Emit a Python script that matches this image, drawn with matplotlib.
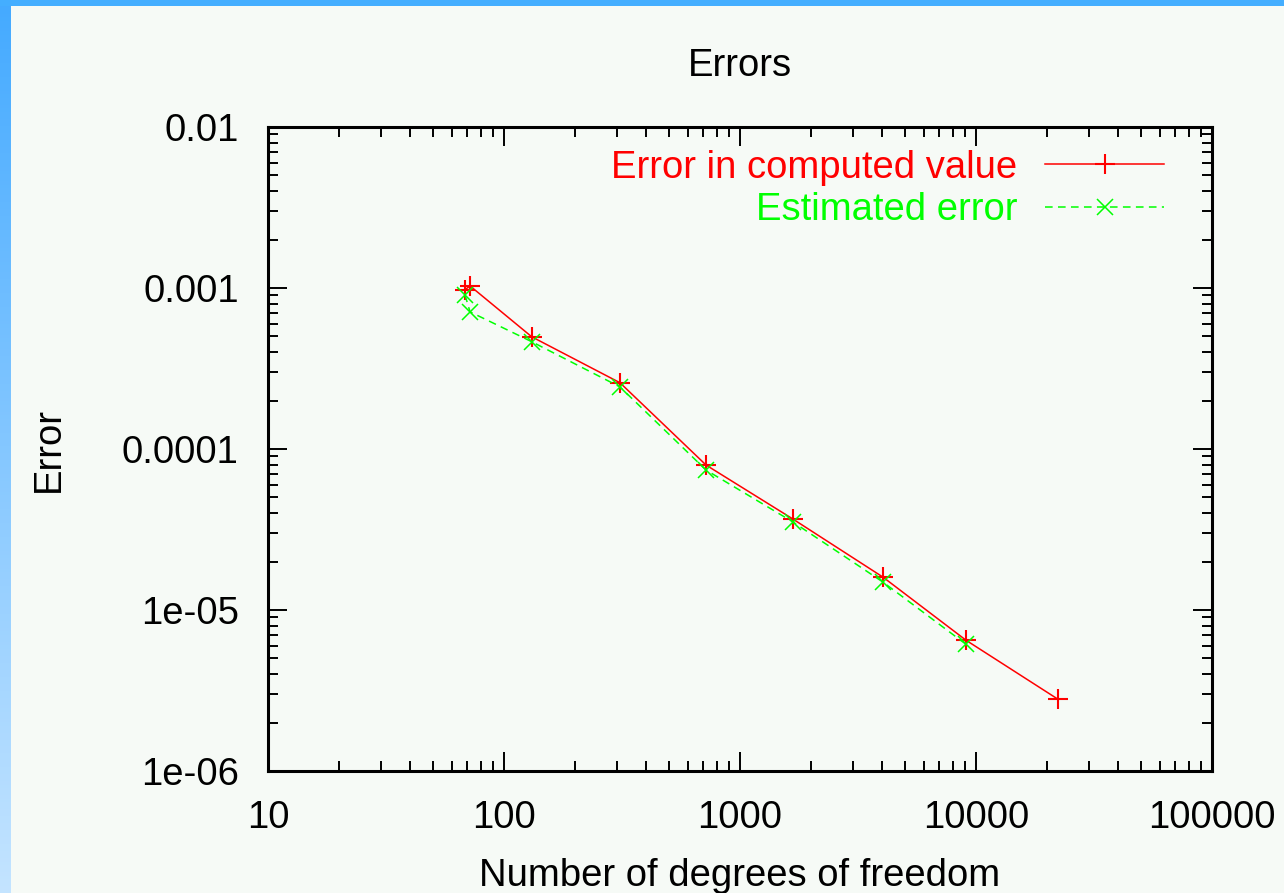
import numpy as np
import matplotlib.pyplot as plt
from matplotlib.ticker import FixedLocator, FixedFormatter, LogLocator, NullFormatter

# degrees of freedom for each refinement step
dofs = [68.3, 71.8, 131, 310, 718, 1677, 4036, 9071, 22260]
err_computed = [9.75e-4, 1.03e-3, 4.98e-4, 2.58e-4, 7.95e-5, 3.67e-5, 1.60e-5, 6.49e-6, 2.79e-6]
# estimator was not run on the finest mesh
err_estimated = [9.08e-4, 7.11e-4, 4.64e-4, 2.43e-4, 7.40e-5, 3.52e-5, 1.49e-5, 6.12e-6]

xticks = [10, 100, 1000, 10000, 100000]
xticklabels = ['10', '100', '1000', '10000', '100000']
yticks = [1e-6, 1e-5, 1e-4, 1e-3, 1e-2]
yticklabels = ['1e-06', '1e-05', '0.0001', '0.001', '0.01']

plt.rcParams['font.family'] = ['Liberation Sans', 'DejaVu Sans']
fs = 27.5
bg = '#f6faf6'

fig = plt.figure(figsize=(12.84, 8.93), dpi=100, facecolor=bg)

# blue window frame on the left and top edges
grad = fig.add_axes([0, 0, 11 / 1284, 1])
grad.imshow(np.linspace(0, 1, 256).reshape(-1, 1), aspect='auto', origin='upper',
            cmap=plt.matplotlib.colors.LinearSegmentedColormap.from_list('frame', ['#44aaff', '#c4e4ff']),
            extent=[0, 1, 0, 1])
grad.axis('off')
top = fig.add_axes([0, 1 - 6 / 893, 1, 6 / 893])
top.set_facecolor('#44aeff')
top.set_xticks([])
top.set_yticks([])
for s in top.spines.values():
    s.set_visible(False)

ax = fig.add_axes([268 / 1284, 1 - 771 / 893, 944 / 1284, 644 / 893])
ax.set_facecolor(bg)

ax.plot(dofs, err_computed, color='#ff0000', lw=1.1, marker='+', ms=15, mew=1.5,
        label='Error in computed value')
ax.plot(dofs[:len(err_estimated)], err_estimated, color='#00ff00', lw=1.1, ls=(0, (5, 3.5)),
        marker='x', ms=12, mew=1.1, label='Estimated error')

ax.set_xscale('log')
ax.set_yscale('log')
ax.set_xlim(10, 100000)
ax.set_ylim(1e-6, 1e-2)

ax.xaxis.set_major_locator(FixedLocator(xticks))
ax.xaxis.set_major_formatter(FixedFormatter(xticklabels))
ax.yaxis.set_major_locator(FixedLocator(yticks))
ax.yaxis.set_major_formatter(FixedFormatter(yticklabels))
ax.xaxis.set_minor_locator(LogLocator(base=10, subs=np.arange(2, 10)))
ax.yaxis.set_minor_locator(LogLocator(base=10, subs=np.arange(2, 10)))
ax.xaxis.set_minor_formatter(NullFormatter())
ax.yaxis.set_minor_formatter(NullFormatter())

ax.tick_params(which='both', direction='in', top=True, right=True, width=1.4, color='black')
ax.tick_params(which='major', length=14, labelsize=fs, pad=21)
ax.tick_params(which='minor', length=7)
for s in ax.spines.values():
    s.set_linewidth(2.2)

ax.set_xlabel('Number of degrees of freedom', fontsize=fs)
ax.set_ylabel('Error', fontsize=fs)
ax.xaxis.set_label_coords(0.5, -0.135)
ax.yaxis.set_label_coords(-0.213, 0.5)

fig.text(740 / 1284, 1 - 66 / 893, 'Errors', fontsize=fs, ha='center', va='center')

leg = ax.legend(loc='upper right', bbox_to_anchor=(0.949, 0.965), frameon=False,
                markerfirst=False, numpoints=1, fontsize=fs, borderpad=0, borderaxespad=0,
                handlelength=3.1, handletextpad=0.73, labelspacing=0.17, labelcolor='linecolor')

fig.savefig('out.png', dpi=100, facecolor=bg)
